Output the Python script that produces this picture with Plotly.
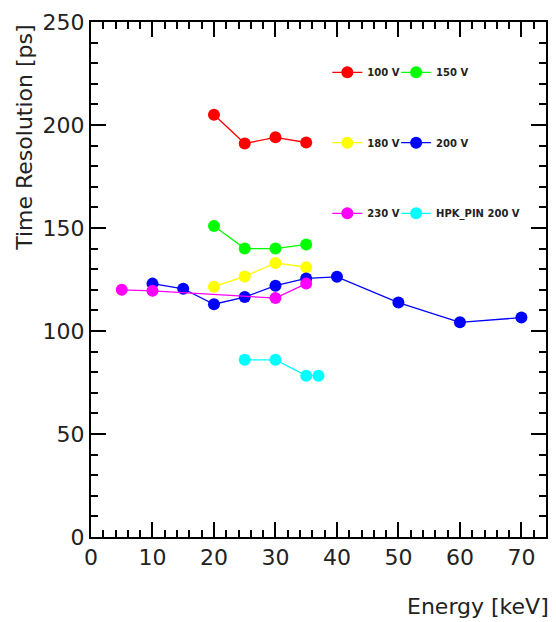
import plotly.graph_objects as go

# ---- data ----
energy_100 = [20, 25, 30, 35]
res_100 = [205, 191, 194, 191.5]

energy_150 = [20, 25, 30, 35]
res_150 = [151, 140, 140, 142]

energy_180 = [20, 25, 30, 35]
res_180 = [121.5, 126.5, 133, 131]

energy_200 = [10, 15, 20, 25, 30, 35, 40, 50, 60, 70]
res_200 = [123, 120.5, 113, 116.5, 122, 125.5, 126.3, 113.8, 104.2, 106.5]

energy_230 = [5, 10, 30, 35]
res_230 = [120, 119.5, 116, 123]

energy_hpk = [25, 30, 35, 37]
res_hpk = [86, 86, 78.3, 78.3]

names = ["100 V", "150 V", "180 V", "200 V", "230 V", "HPK_PIN 200 V"]
colors = ["#ff0000", "#00ff00", "#ffff00", "#0000ff", "#ff00ff", "#00ffff"]
xs = [energy_100, energy_150, energy_180, energy_200, energy_230, energy_hpk]
ys = [res_100, res_150, res_180, res_200, res_230, res_hpk]
legend_ids = ["legend", "legend2", "legend3", "legend4", "legend5", "legend6"]

FONT = "DejaVu Sans"

fig = go.Figure()
for name, x, y, c, lg in zip(names, xs, ys, colors, legend_ids):
    fig.add_trace(go.Scatter(
        x=x, y=y, mode="lines+markers", name=name, legend=lg,
        line=dict(color=c, width=1.3),
        marker=dict(color=c, size=12),
    ))

axis_common = dict(
    showline=True, linecolor="black", linewidth=2, mirror="ticks",
    ticks="inside", ticklen=15, tickwidth=2, tickcolor="black",
    showgrid=False, zeroline=False,
    tickfont=dict(family=FONT, size=22, color="#222"),
)
fig.update_xaxes(range=[0, 74], tick0=0, dtick=10,
                 minor=dict(dtick=2, ticklen=7, tickwidth=2, ticks="inside", tickcolor="black"),
                 **axis_common)
fig.update_yaxes(range=[0, 250], tick0=0, dtick=50,
                 minor=dict(dtick=10, ticklen=7, tickwidth=2, ticks="inside", tickcolor="black"),
                 **axis_common)

leg_common = dict(
    orientation="h", xanchor="left", yanchor="middle",
    bgcolor="rgba(0,0,0,0)", borderwidth=0,
    font=dict(family=FONT, size=10, weight="bold", color="#222"),
)
col_x = [0.5194, 0.6706]
row_y = [0.9023, 0.7656, 0.6285]

legends = {}
for i, lg in enumerate(legend_ids):
    legends[lg] = dict(x=col_x[i % 2], y=row_y[i // 2], **leg_common)

fig.update_layout(
    width=556, height=622,
    margin=dict(l=91, r=8, t=22, b=85),
    plot_bgcolor="white", paper_bgcolor="white",
    showlegend=True,
    annotations=[
        dict(text="Time Resolution [ps]", xref="paper", yref="paper",
             x=-0.1466, y=0.7757, xanchor="center", yanchor="middle",
             textangle=-90, showarrow=False,
             font=dict(family=FONT, size=22, color="#222")),
        dict(text="Energy [keV]", xref="paper", yref="paper",
             x=0.8505, y=-0.1359, xanchor="center", yanchor="middle",
             showarrow=False,
             font=dict(family=FONT, size=22, color="#222")),
    ],
    **legends,
)

fig.write_html("out.html", config={"displayModeBar": False},
               post_script="document.body.style.margin='0px';")
